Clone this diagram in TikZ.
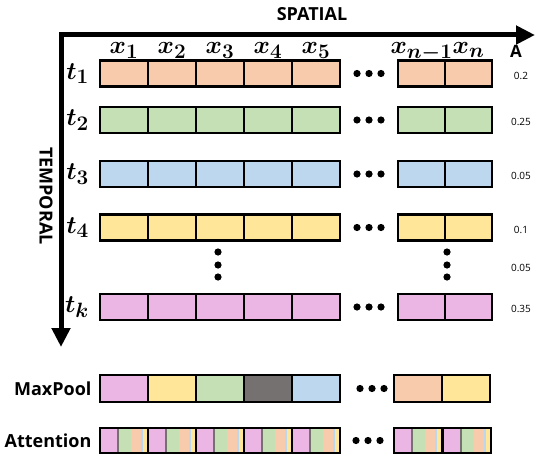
\documentclass[tikz,border=0pt]{standalone}
\usepackage{bm}
\usepackage{fontspec}
\setsansfont{Open Sans}
\usetikzlibrary{arrows.meta}
\def\cw{48}
\def\ch{26}
\definecolor{my orange}{HTML}{F8CBAD}
\definecolor{my green}{HTML}{C5E0B4}
\definecolor{my blue}{HTML}{BDD7EE}
\definecolor{my yellow}{HTML}{FFE699}
\definecolor{my pink}{HTML}{EBB6E3}
\definecolor{my gray}{HTML}{767171}
\tikzset{cell/.style={draw,line width=2.5pt,fill=#1},
         axis/.style={line width=5pt,{Triangle[length=19pt,width=18pt]}-{Triangle[length=19pt,width=18pt]}},
         head/.style={font=\sffamily\bfseries\fontsize{18}{20}\selectfont},
         mathlbl/.style={font=\Huge\boldmath,inner sep=0pt},
         val/.style={font=\sffamily\fontsize{10}{12}\selectfont,inner sep=0pt}}

\begin{document}
\begin{tikzpicture}[x=1pt,y=-1pt]
\useasboundingbox (0,0) rectangle (535,460);
% axes
\coordinate (o)  at (61,35);
\coordinate (xe) at (535,35);
\coordinate (ye) at (61,347);
\draw[axis] (ye) -- (o) -- (xe);
\node[head] (spatial) at (312,14) {SPATIAL};
\node[head,rotate=-90] (temporal) at (46,196) {TEMPORAL};
% column labels
\foreach\i/\s in {1/1,2/2,3/3,4/4,5/5}
  \node[mathlbl,anchor=base] (x\i) at (100+\i*\cw-\cw/2,54) {$\bm{x_{\s}}$};
\node[mathlbl,anchor=base] (xm) at (421.5,54) {$\bm{x_{n-1}}$};
\node[mathlbl,anchor=base] (xn) at (468.5,54) {$\bm{x_{n}}$};
\node[head,font=\sffamily\bfseries\fontsize{17}{19}\selectfont] (A) at (516,51) {A};
% rows
\foreach\y/\c/\t/\a in {73.5/my orange/1/0.2, 120/my green/2/0.25, 174/my blue/3/0.05,
                        227.5/my yellow/4/0.1, 307/my pink/k/0.35}
{
  \foreach\i in {0,...,4}
    \draw[cell=\c] (100+\i*\cw,\y-\ch/2) rectangle ++(\cw,\ch);
  \foreach\i in {0,1}
    \draw[cell=\c] (398+\i*47,\y-\ch/2) rectangle ++(47,\ch);
  \foreach\d in {357,369,381}
    \fill (\d,\y) circle (3.6pt);
  \node[mathlbl,anchor=east] (t\t) at (89,\y) {$\bm{t_{\t}}$};
  \node[val] (a\t) at (521,\y+2) {\a};
}
\node[val] (a5) at (521,268) {0.05};
\foreach\x in {218,447}
  \foreach\d in {252,265,277}
    \fill (\x,\d) circle (3.6pt);
% maxpool
\foreach\c [count=\i from 0] in {my pink,my yellow,my green,my gray,my blue}
  \draw[cell=\c] (100+\i*\cw,388.5-\ch/2-0.5) rectangle ++(\cw,\ch+1);
\draw[cell=my orange] (394,375) rectangle ++(48,27);
\draw[cell=my yellow] (442,375) rectangle ++(48,27);
\foreach\d in {360,372,384}
  \fill (\d,388.5) circle (3.6pt);
\node[head,anchor=east] (maxpool) at (95,388.5) {MaxPool};
% attention
\foreach\x in {100,148,196,244,292,394,443}
{
  \foreach\s/\e/\c in {0/0.35/my pink, 0.35/0.4/my gray, 0.4/0.65/my green,
                       0.65/0.85/my orange, 0.85/0.9/my blue, 0.9/1/my yellow}
    \fill[\c] (\x+\s*\cw,428) rectangle (\x+\e*\cw,453);
  \draw[line width=2.8pt] (\x,428) rectangle ++(\cw,25);
}
\foreach\d in {356,368,380}
  \fill (\d,440.5) circle (3.6pt);
\node[head,anchor=east] (attention) at (95,440.5) {Attention};
\end{tikzpicture}
\end{document}
